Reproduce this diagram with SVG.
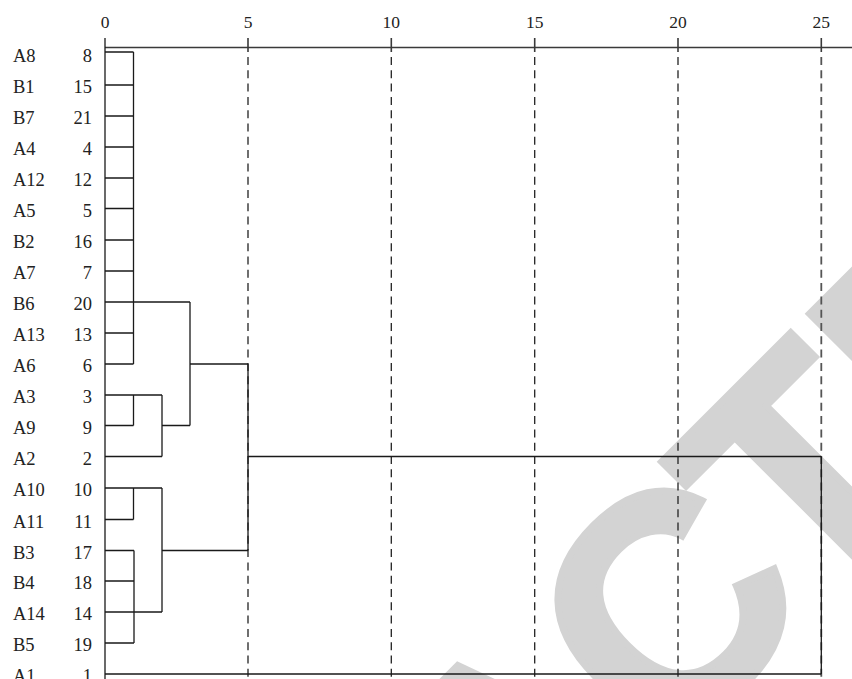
<svg xmlns="http://www.w3.org/2000/svg" width="852" height="679" viewBox="0 0 852 679">
<style>
.wm{font-family:"Liberation Sans",Arial,sans-serif;font-weight:bold;font-size:310px;fill:#d3d3d3;stroke:#d3d3d3;stroke-width:7;stroke-linejoin:miter}
.lbl{font-family:"Liberation Serif","Times New Roman",serif;font-size:18.5px;fill:#222}
.num{font-family:"Liberation Serif","Times New Roman",serif;font-size:18.5px;fill:#222;text-anchor:end}
.tick{font-family:"Liberation Serif","Times New Roman",serif;font-size:17.5px;fill:#222;text-anchor:middle}
.ln{fill:none;stroke:#1a1a1a;stroke-width:1.3}
.ax{fill:none;stroke:#3a3a3a;stroke-width:1.6}
.dash{fill:none;stroke:#222;stroke-width:1.3;stroke-dasharray:8 5.3}
.dash25{fill:none;stroke:#555;stroke-width:1.8;stroke-dasharray:8 5.3}
</style>
<rect width="852" height="679" fill="#fff"/>
<text class="wm" transform="translate(810,615) rotate(-45)" x="-1267 -1043 -836 -647 -423 -208 0 192 399" y="0">RETRACTED</text>
<g id="axis">
<path class="ax" d="M105 47.5H852"/>
<path class="ax" d="M248 38V52M391.3 38V52M534.7 38V52M678 38V52M821.3 38V52"/>
<text class="tick" x="105" y="28">0</text>
<text class="tick" x="248" y="28">5</text>
<text class="tick" x="391.3" y="28">10</text>
<text class="tick" x="534.7" y="28">15</text>
<text class="tick" x="678" y="28">20</text>
<text class="tick" x="821.3" y="28">25</text>
<path class="dash" d="M248 57V679M391.3 57V679M534.7 57V679M678 57V679"/>
<path class="dash25" d="M821.3 57V679"/>
</g>
<g id="n-A8"><text class="lbl" x="13" y="62">A8</text><text class="num" x="92" y="62">8</text></g>
<g id="n-B1"><text class="lbl" x="13" y="93">B1</text><text class="num" x="92" y="93">15</text></g>
<g id="n-B7"><text class="lbl" x="13" y="124">B7</text><text class="num" x="92" y="124">21</text></g>
<g id="n-A4"><text class="lbl" x="13" y="155">A4</text><text class="num" x="92" y="155">4</text></g>
<g id="n-A12"><text class="lbl" x="13" y="186">A12</text><text class="num" x="92" y="186">12</text></g>
<g id="n-A5"><text class="lbl" x="13" y="216.5">A5</text><text class="num" x="92" y="216.5">5</text></g>
<g id="n-B2"><text class="lbl" x="13" y="248">B2</text><text class="num" x="92" y="248">16</text></g>
<g id="n-A7"><text class="lbl" x="13" y="279">A7</text><text class="num" x="92" y="279">7</text></g>
<g id="n-B6"><text class="lbl" x="13" y="310">B6</text><text class="num" x="92" y="310">20</text></g>
<g id="n-A13"><text class="lbl" x="13" y="341">A13</text><text class="num" x="92" y="341">13</text></g>
<g id="n-A6"><text class="lbl" x="13" y="372">A6</text><text class="num" x="92" y="372">6</text></g>
<g id="n-A3"><text class="lbl" x="13" y="403">A3</text><text class="num" x="92" y="403">3</text></g>
<g id="n-A9"><text class="lbl" x="13" y="433.5">A9</text><text class="num" x="92" y="433.5">9</text></g>
<g id="n-A2"><text class="lbl" x="13" y="464.5">A2</text><text class="num" x="92" y="464.5">2</text></g>
<g id="n-A10"><text class="lbl" x="13" y="496">A10</text><text class="num" x="92" y="496">10</text></g>
<g id="n-A11"><text class="lbl" x="13" y="527.5">A11</text><text class="num" x="92" y="527.5">11</text></g>
<g id="n-B3"><text class="lbl" x="13" y="558.5">B3</text><text class="num" x="92" y="558.5">17</text></g>
<g id="n-B4"><text class="lbl" x="13" y="589">B4</text><text class="num" x="92" y="589">18</text></g>
<g id="n-A14"><text class="lbl" x="13" y="620">A14</text><text class="num" x="92" y="620">14</text></g>
<g id="n-B5"><text class="lbl" x="13" y="651">B5</text><text class="num" x="92" y="651">19</text></g>
<g id="n-A1"><text class="lbl" x="13" y="682">A1</text><text class="num" x="92" y="682">1</text></g>
<g id="connectors">
<path class="ln" d="M105 38V679"/>
<path class="ln" d="M105 52H133.5M105 85H133.5M105 116H133.5M105 147H133.5M105 178H133.5M105 208.5H133.5M105 240H133.5M105 271H133.5M105 302H190M105 333H133.5M105 364H133.5M133.5 52V364"/>
<path class="ln" d="M105 395H162M105 425.5H133.5M133.5 395V425.5M105 456.5H162M162 395V456.5M162 425.5H190M190 302V425.5M190 364H248"/>
<path class="ln" d="M105 488H162M105 519.5H133.5M133.5 488V519.5"/>
<path class="ln" d="M105 550.5H134M105 581H134M105 612H162M105 643H134M134 550.5V643M162 488V612M162 550.5H248M248 364V550.5"/>
<path class="ln" d="M248 456.5H821.3M821.3 456.5V674M105 674H821.3"/>
</g>
</svg>
